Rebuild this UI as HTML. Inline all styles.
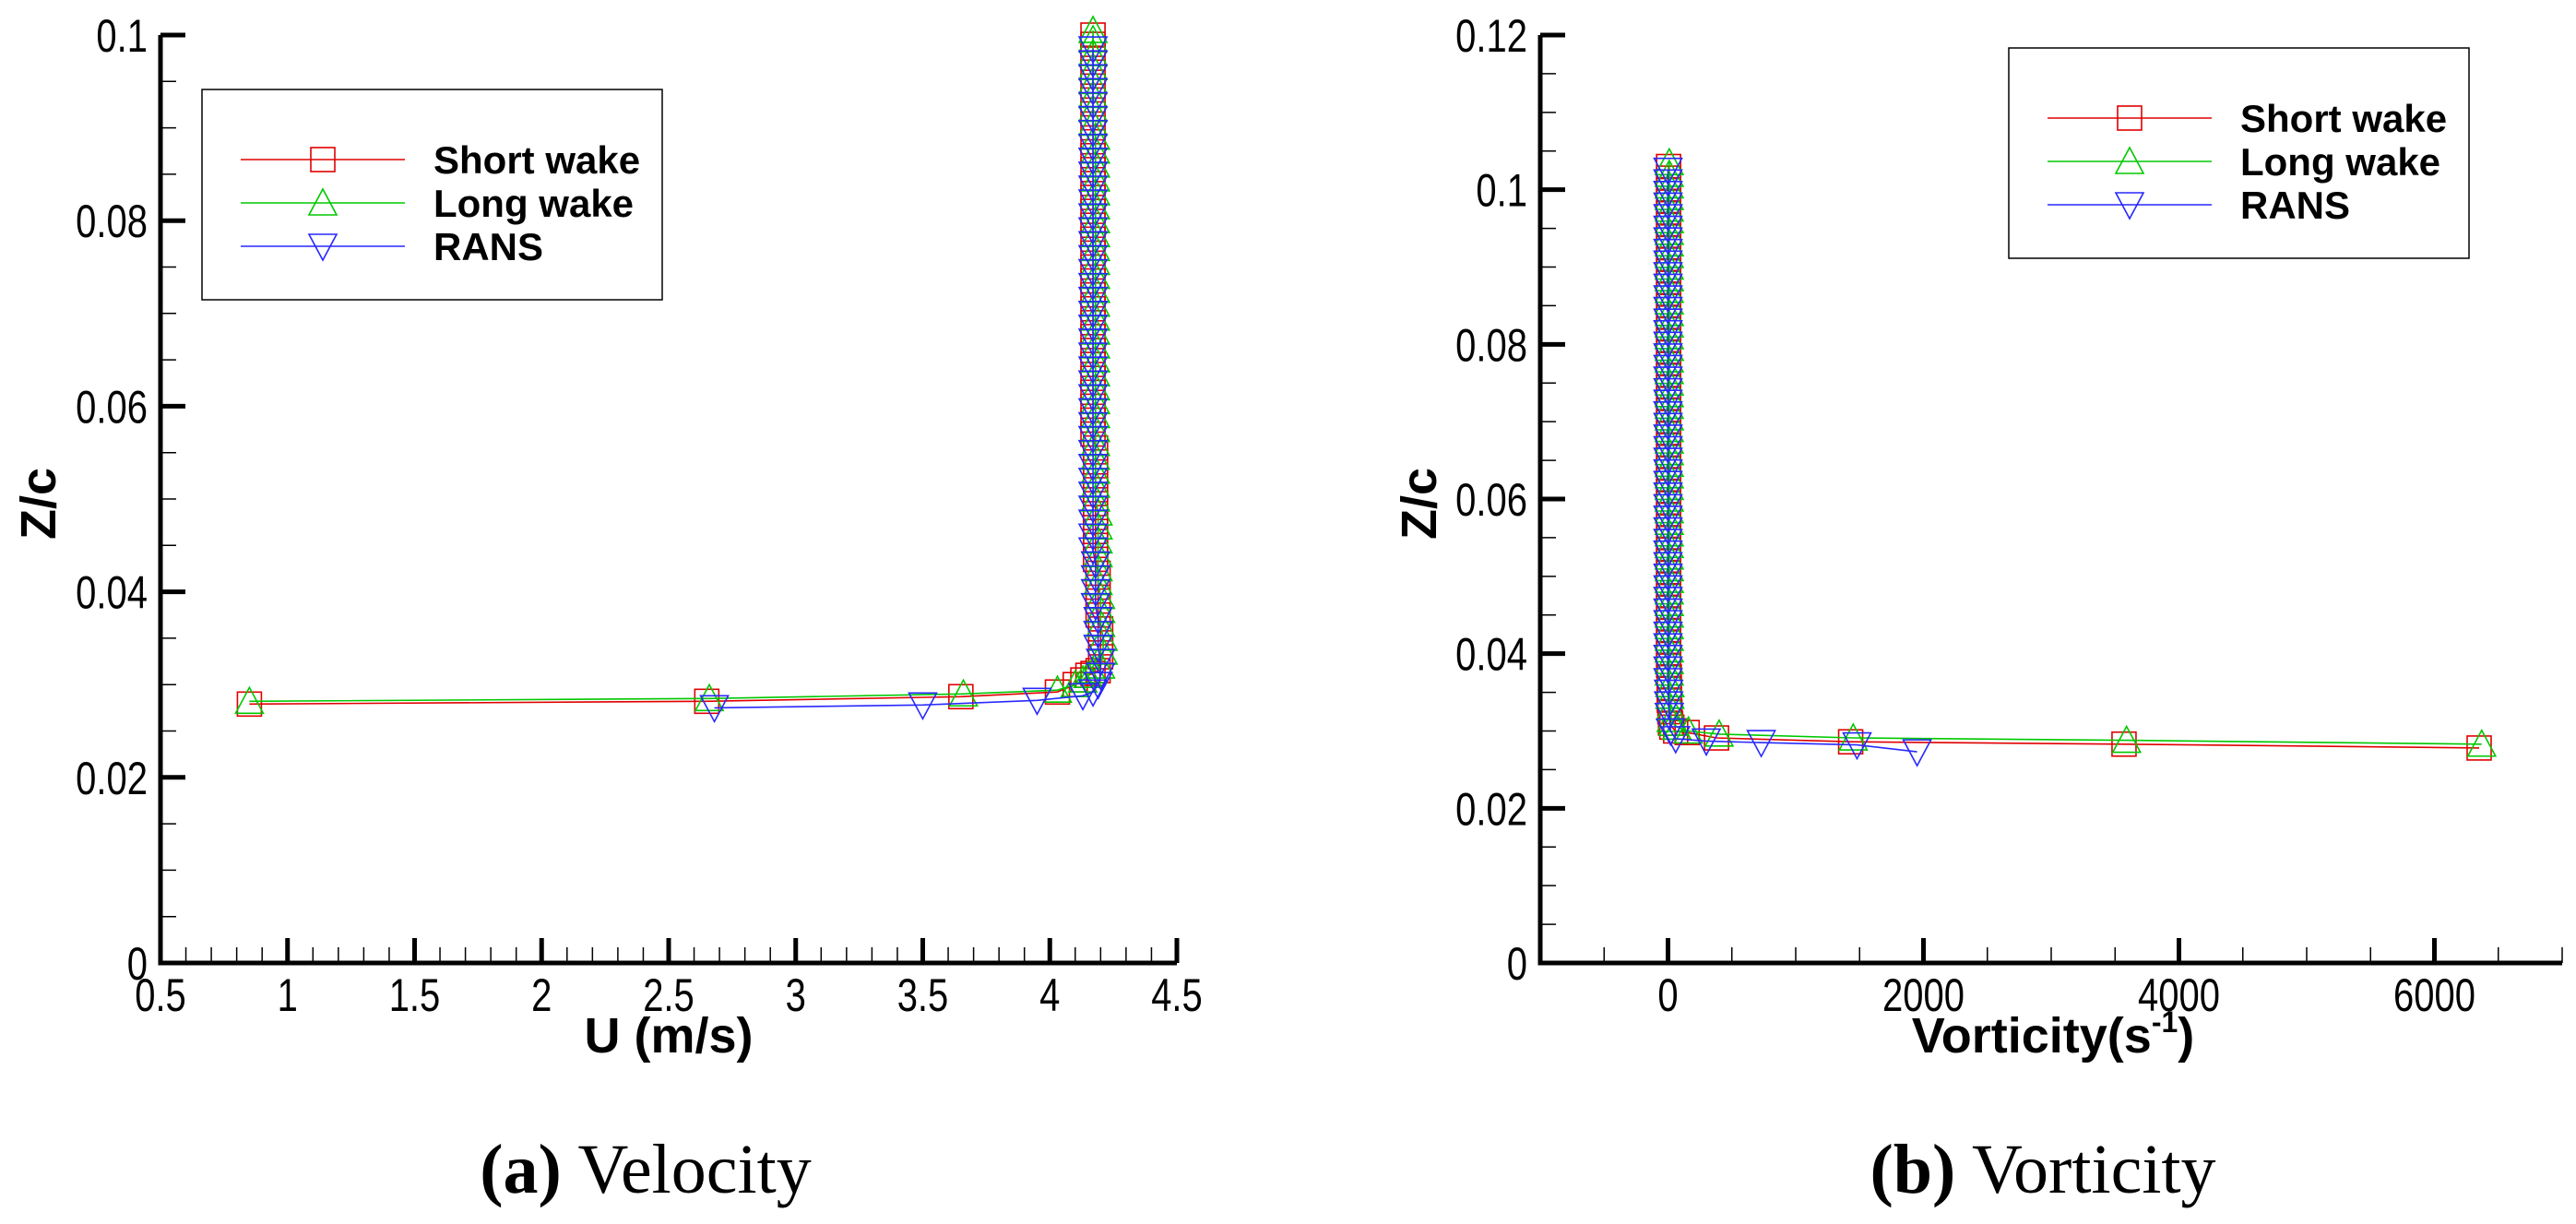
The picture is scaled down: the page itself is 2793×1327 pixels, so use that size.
<!DOCTYPE html>
<html><head><meta charset="utf-8"><style>
html,body{margin:0;padding:0;background:#fff;}
svg{display:block;}
.tk{font-family:"Liberation Sans Narrow","Liberation Sans",sans-serif;font-size:50px;fill:#000;}
.ti{font-family:"Liberation Sans",sans-serif;font-size:54px;font-weight:bold;fill:#000;}
.lg{font-family:"Liberation Sans",sans-serif;font-size:42px;font-weight:bold;fill:#000;}
.cap{font-family:"Liberation Serif",serif;font-size:76px;fill:#000;}
</style></head><body>
<svg id="fig" width="2793" height="1327" viewBox="0 0 2793 1327" xmlns="http://www.w3.org/2000/svg">
<g id="pa"></g>
<g id="pb"></g>
<text class="cap" x="700" y="1293" text-anchor="middle"><tspan font-weight="bold">(a)</tspan> Velocity</text>
<text class="cap" x="2215" y="1293" text-anchor="middle"><tspan font-weight="bold">(b)</tspan> Vorticity</text>
</svg>
<script>
// ---- Velocity data (horizontal part + vertical profile) ----
const velShortU = [0.85,2.65,3.65,4.03,4.10,4.13,4.15,4.17];
const velShortZ = [0.0279,0.0282,0.0287,0.0292,0.0300,0.0305,0.0310,0.0312];
const velShortUv = [4.19,4.20,4.20,4.20,4.19,4.19,4.19,4.19,4.18,4.18,4.18,4.18,4.18,4.18,4.18,4.18,4.18,4.17,4.17,4.17,4.17,4.17,4.17,4.17,4.17,4.17,4.17,4.17,4.17,4.17,4.17,4.17,4.17,4.17,4.17,4.17,4.17,4.17,4.17,4.17,4.17,4.17,4.17,4.17,4.17,4.17,4.17];
const velShortZv = [0.0315,0.033,0.0345,0.036,0.0375,0.039,0.0405,0.042,0.0435,0.045,0.0465,0.048,0.0495,0.051,0.0525,0.054,0.0555,0.057,0.0585,0.060,0.0615,0.063,0.0645,0.066,0.0675,0.069,0.0705,0.072,0.0735,0.075,0.0765,0.078,0.0795,0.081,0.0825,0.084,0.0855,0.087,0.0885,0.090,0.0915,0.093,0.0945,0.096,0.0975,0.099,0.100];
const velLongU = [0.85,2.66,3.66,4.03,4.10,4.13,4.15,4.17];
const velLongZ = [0.0282,0.0285,0.0290,0.0294,0.0300,0.0305,0.0310,0.0315];
const velLongUv = [4.20,4.21,4.21,4.20,4.20,4.20,4.19,4.19,4.19,4.19,4.19,4.19,4.18,4.18,4.18,4.18,4.18,4.18,4.18,4.18,4.18,4.18,4.18,4.18,4.18,4.18,4.18,4.18,4.18,4.18,4.18,4.18,4.18,4.18,4.18,4.18,4.18,4.18,4.18,4.17,4.17,4.17,4.17,4.17,4.17,4.17,4.17];
const velLongZv = [0.032,0.0335,0.035,0.0365,0.038,0.0395,0.041,0.0425,0.044,0.0455,0.047,0.0485,0.050,0.0515,0.053,0.0545,0.056,0.0575,0.059,0.0605,0.062,0.0635,0.065,0.0665,0.068,0.0695,0.071,0.0725,0.074,0.0755,0.077,0.0785,0.080,0.0815,0.083,0.0845,0.086,0.0875,0.089,0.0905,0.092,0.0935,0.095,0.0965,0.098,0.0995,0.1005];
const velRansU = [2.68,3.50,3.95,4.13,4.17,4.19];
const velRansZ = [0.0275,0.0278,0.0283,0.0288,0.0292,0.0300];
const velRansUv = [4.20,4.20,4.19,4.19,4.19,4.18,4.18,4.18,4.18,4.17,4.17,4.17,4.17,4.17,4.17,4.17,4.17,4.17,4.17,4.17,4.17,4.17,4.17,4.17,4.17,4.17,4.17,4.17,4.17,4.17,4.17,4.17,4.17,4.17,4.17,4.17,4.17,4.17,4.17,4.17,4.17,4.17,4.17,4.17,4.17,4.17];
const velRansZv = [0.031,0.0325,0.034,0.0355,0.037,0.0385,0.040,0.0415,0.043,0.0445,0.046,0.0475,0.049,0.0505,0.052,0.0535,0.055,0.0565,0.058,0.0595,0.061,0.0625,0.064,0.0655,0.067,0.0685,0.070,0.0715,0.073,0.0745,0.076,0.0775,0.079,0.0805,0.082,0.0835,0.085,0.0865,0.088,0.0895,0.091,0.0925,0.094,0.0955,0.097,0.0985];
const velXTicks = [0.5,1,1.5,2,2.5,3,3.5,4,4.5];
const velXTickLabels = ["0.5","1","1.5","2","2.5","3","3.5","4","4.5"];
const velYTicks = [0,0.02,0.04,0.06,0.08,0.1];
const velYTickLabels = ["0","0.02","0.04","0.06","0.08","0.1"];
// ---- Vorticity data ----
const vorShortW = [6350,3570,1430,380,150,60,30];
const vorShortZ = [0.0278,0.0283,0.0286,0.0291,0.0298,0.0300,0.0305];
const vorShortWv = [20,15,10,10,10,5,5,5,5,5,5,5,5,5,5,5,5,5,5,5,5,5,5,5,5,5,5,5,5,5,5,5,5,5,5,5,5,5,5,5,5,5,5,5,5,5,5,5,5];
const vorShortZv = [0.031,0.0325,0.034,0.0355,0.037,0.0385,0.040,0.0415,0.043,0.0445,0.046,0.0475,0.049,0.0505,0.052,0.0535,0.055,0.0565,0.058,0.0595,0.061,0.0625,0.064,0.0655,0.067,0.0685,0.070,0.0715,0.073,0.0745,0.076,0.0775,0.079,0.0805,0.082,0.0835,0.085,0.0865,0.088,0.0895,0.091,0.0925,0.094,0.0955,0.097,0.0985,0.100,0.1015,0.103];
const vorLongW = [6370,3590,1450,400,160,70,40];
const vorLongZ = [0.0283,0.0288,0.0291,0.0296,0.0300,0.0305,0.0310];
const vorLongWv = [25,20,15,15,10,10,10,10,10,10,10,10,10,10,10,10,10,10,10,10,10,10,10,10,10,10,10,10,10,10,10,10,10,10,10,10,10,10,10,10,10,10,10,10,10,10,10,10,10];
const vorLongZv = [0.0315,0.033,0.0345,0.036,0.0375,0.039,0.0405,0.042,0.0435,0.045,0.0465,0.048,0.0495,0.051,0.0525,0.054,0.0555,0.057,0.0585,0.060,0.0615,0.063,0.0645,0.066,0.0675,0.069,0.0705,0.072,0.0735,0.075,0.0765,0.078,0.0795,0.081,0.0825,0.084,0.0855,0.087,0.0885,0.090,0.0915,0.093,0.0945,0.096,0.0975,0.099,0.1005,0.102,0.1035];
const vorRansW = [1950,1480,730,300,60,20];
const vorRansZ = [0.0273,0.0282,0.0285,0.0287,0.0290,0.0300];
const vorRansWv = [10,5,5,0,0,0,0,0,0,0,0,0,0,0,0,0,0,0,0,0,0,0,0,0,0,0,0,0,0,0,0,0,0,0,0,0,0,0,0,0,0,0,0,0,0,0,0,0];
const vorRansZv = [0.032,0.0335,0.035,0.0365,0.038,0.0395,0.041,0.0425,0.044,0.0455,0.047,0.0485,0.050,0.0515,0.053,0.0545,0.056,0.0575,0.059,0.0605,0.062,0.0635,0.065,0.0665,0.068,0.0695,0.071,0.0725,0.074,0.0755,0.077,0.0785,0.080,0.0815,0.083,0.0845,0.086,0.0875,0.089,0.0905,0.092,0.0935,0.095,0.0965,0.098,0.0995,0.101,0.1025];
const vorXTicks = [0,2000,4000,6000];
const vorXTickLabels = ["0","2000","4000","6000"];
const vorYTicks = [0,0.02,0.04,0.06,0.08,0.1,0.12];
const vorYTickLabels = ["0","0.02","0.04","0.06","0.08","0.1","0.12"];

const NS = "http://www.w3.org/2000/svg";
const RED = "#e00000", GREEN = "#00c800", BLUE = "#2828ff";
const SX = 0.8;
function mk(parent, tag, attrs) {
  const e = document.createElementNS(NS, tag);
  for (const k in attrs) e.setAttribute(k, attrs[k]);
  parent.appendChild(e);
  return e;
}
function marker(g, kind, cx, cy, col) {
  const h = 13;
  let e;
  if (kind === "sq") e = mk(g, "rect", {x: cx - h, y: cy - h, width: 2 * h, height: 2 * h, fill: "none", stroke: col, "stroke-width": 1.6});
  else if (kind === "up") e = mk(g, "polygon", {points: `${cx},${cy - h - 2} ${cx - h - 2},${cy + h} ${cx + h + 2},${cy + h}`, fill: "none", stroke: col, "stroke-width": 1.6});
  else e = mk(g, "polygon", {points: `${cx - h - 2},${cy - h} ${cx + h + 2},${cy - h} ${cx},${cy + h + 2}`, fill: "none", stroke: col, "stroke-width": 1.6});
  return e;
}

function panel(g, cfg) {
  const X = v => cfg.x0 + (v - cfg.xmin) / (cfg.xmax - cfg.xmin) * (cfg.x1 - cfg.x0);
  const Y = v => cfg.y0 - (v - cfg.ymin) / (cfg.ymax - cfg.ymin) * (cfg.y0 - cfg.y1);
  cfg.series.forEach(s => {
    const xs = s.xs.concat(s.xv), ys = s.ys.concat(s.yv);
    const sg = mk(g, "g", {});
    
    
    const pts = xs.map((v, i) => X(v).toFixed(1) + "," + Y(ys[i]).toFixed(1)).join(" ");
    const pl = mk(sg, "polyline", {points: pts, fill: "none", stroke: s.col, "stroke-width": 1.6});
    
    
    xs.forEach((v, i) => {
      const m = marker(sg, s.kind, X(v), Y(ys[i]), s.col);
      
      
    });
  });
  const ax = mk(g, "path", {d: `M${cfg.x0},${cfg.y1} L${cfg.x0},${cfg.y0} L${cfg.x1},${cfg.y0}`, fill: "none", stroke: "#000", "stroke-width": 5});
  
  
  for (let v = cfg.ymin; v <= cfg.ymax + 1e-9; v += cfg.yminor) {
    mk(g, "line", {x1: cfg.x0, x2: cfg.x0 + 17, y1: Y(v), y2: Y(v), stroke: "#000", "stroke-width": 1.5});
  }
  for (let v = cfg.xmin; v <= cfg.xmax + 1e-9; v += cfg.xminor) {
    mk(g, "line", {x1: X(v), x2: X(v), y1: cfg.y0, y2: cfg.y0 - 17, stroke: "#000", "stroke-width": 1.5});
  }
  cfg.yt.forEach((v, i) => {
    mk(g, "line", {x1: cfg.x0, x2: cfg.x0 + 27, y1: Y(v), y2: Y(v), stroke: "#000", "stroke-width": 5});
    const t = mk(g, "text", {x: (cfg.x0 - 14) / SX, y: Y(v) + 18, "text-anchor": "end", class: "tk", transform: `scale(${SX} 1)`});
    t.textContent = cfg.ytl[i];
    
    
  });
  cfg.xt.forEach((v, i) => {
    mk(g, "line", {x1: X(v), x2: X(v), y1: cfg.y0, y2: cfg.y0 - 27, stroke: "#000", "stroke-width": 5});
    const t = mk(g, "text", {x: X(v) / SX, y: cfg.y0 + 52, "text-anchor": "middle", class: "tk", transform: `scale(${SX} 1)`});
    t.textContent = cfg.xtl[i];
    
    
  });
  const yt = mk(g, "text", {x: 0, y: 0, "text-anchor": "middle", class: "ti", transform: `translate(${cfg.ytx},546) rotate(-90)`});
  yt.textContent = "Z/c";
  
  
  const xt = mk(g, "text", {x: cfg.xtx, y: 1141, "text-anchor": "middle", class: "ti"});
  xt.innerHTML = cfg.xtitle;
  
  
  const lg = mk(g, "g", {});
  
  
  mk(lg, "rect", {x: cfg.lx, y: cfg.ly, width: 499, height: 228, fill: "#fff", stroke: "#000", "stroke-width": 1.5});
  cfg.series.forEach((s, i) => {
    const ry = cfg.ly + 76 + i * 47;
    const e = mk(lg, "g", {});
    
    
    mk(e, "line", {x1: cfg.lx + 42, x2: cfg.lx + 220, y1: ry, y2: ry, stroke: s.col, "stroke-width": 1.6});
    marker(e, s.kind, cfg.lx + 131, ry, s.col);
    const t = mk(e, "text", {x: cfg.lx + 251, y: ry + 15, class: "lg"});
    t.textContent = s.label;
  });
}

panel(document.getElementById("pa"), {
  x0: 174, x1: 1276, y0: 1044, y1: 38, xmin: 0.5, xmax: 4.5, ymin: 0, ymax: 0.1,
  xminor: 0.1, yminor: 0.005, xt: velXTicks, xtl: velXTickLabels, yt: velYTicks, ytl: velYTickLabels,
  ytx: 60, xtx: 725, xtitle: "U (m/s)", lx: 219, ly: 97,
  series: [
    {name: "short-wake", label: "Short wake", kind: "sq", col: RED, xs: velShortU, ys: velShortZ, xv: velShortUv, yv: velShortZv},
    {name: "long-wake", label: "Long wake", kind: "up", col: GREEN, xs: velLongU, ys: velLongZ, xv: velLongUv, yv: velLongZv},
    {name: "rans", label: "RANS", kind: "dn", col: BLUE, xs: velRansU, ys: velRansZ, xv: velRansUv, yv: velRansZv}
  ]
});
panel(document.getElementById("pb"), {
  x0: 1670, x1: 2778, y0: 1044, y1: 38, xmin: -1000, xmax: 7000, ymin: 0, ymax: 0.12,
  xminor: 500, yminor: 0.005, xt: vorXTicks, xtl: vorXTickLabels, yt: vorYTicks, ytl: vorYTickLabels,
  ytx: 1557, xtx: 2226, xtitle: 'Vorticity(s<tspan dy="-22" font-size="32">-1</tspan><tspan dy="22">)</tspan>', lx: 2178, ly: 52,
  series: [
    {name: "short-wake", label: "Short wake", kind: "sq", col: RED, xs: vorShortW, ys: vorShortZ, xv: vorShortWv, yv: vorShortZv},
    {name: "long-wake", label: "Long wake", kind: "up", col: GREEN, xs: vorLongW, ys: vorLongZ, xv: vorLongWv, yv: vorLongZv},
    {name: "rans", label: "RANS", kind: "dn", col: BLUE, xs: vorRansW, ys: vorRansZ, xv: vorRansWv, yv: vorRansZv}
  ]
});
</script>
</body></html>
